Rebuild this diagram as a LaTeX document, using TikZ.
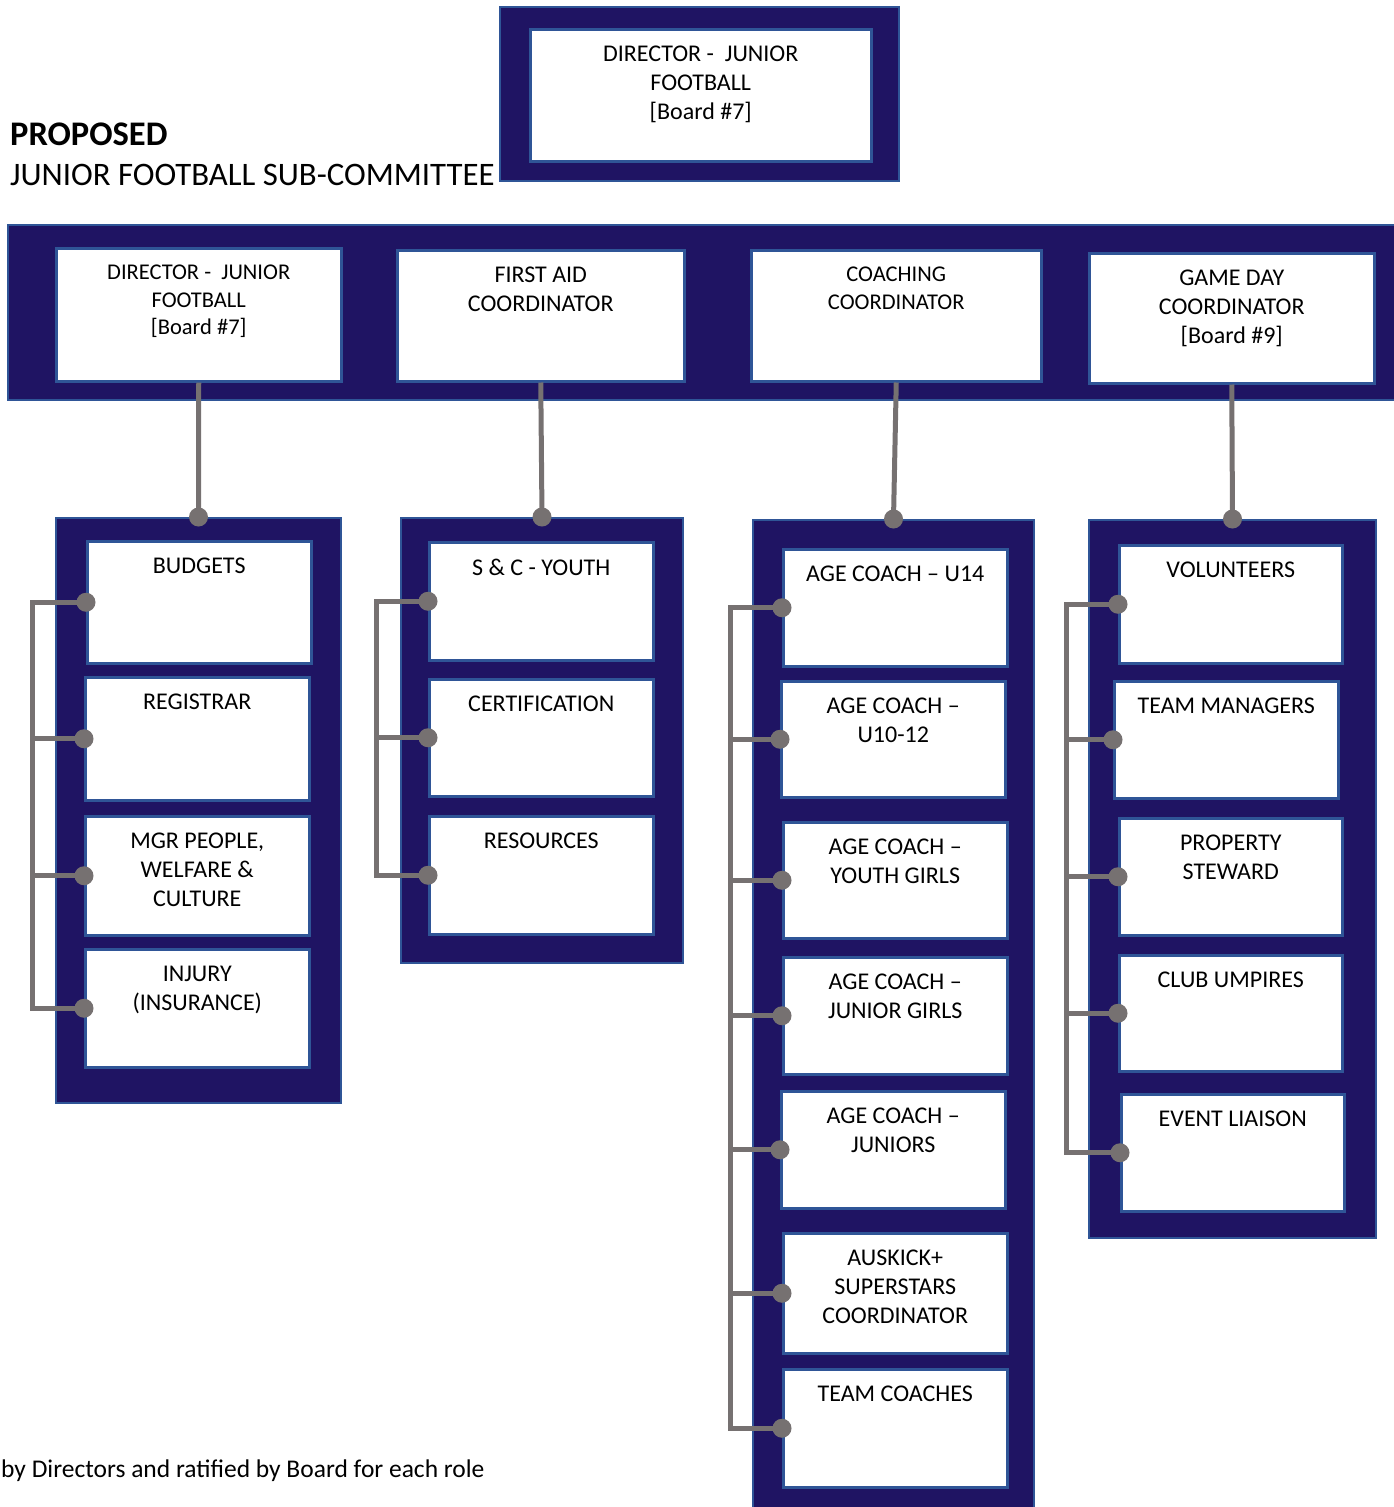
\documentclass[tikz,border=0pt]{standalone}
\usepackage{fontspec}
\setmainfont{Carlito}
\usetikzlibrary{positioning}
\definecolor{navy}{RGB}{31,20,99}
\definecolor{edgeblue}{RGB}{47,85,151}
\definecolor{linkgray}{RGB}{118,113,113}
\newcommand{\rolefont}{\fontsize{24}{29}\selectfont}
\newcommand{\smallrolefont}{\fontsize{22.5}{27.5}\selectfont}
\tikzset{
  panel/.style={rectangle, draw=edgeblue, line width=2pt, fill=navy, anchor=north west, inner sep=0pt},
  role/.style={rectangle, draw=edgeblue, line width=2.5pt, fill=white, anchor=north west, inner sep=0pt,
    minimum width=224pt, minimum height=118pt},
  roletext/.style={anchor=north, yshift=-18pt, inner sep=0pt, align=center, font=\rolefont},
  says/.style={label={[roletext]north:{#1}}},
  saysmall/.style={label={[roletext, font=\smallrolefont]north:{#1}}},
  link/.style={draw=linkgray, line width=5pt},
  dot/.style={fill=linkgray},
}
\begin{document}
\begin{tikzpicture}[x=1pt,y=-1pt]
\useasboundingbox (0,0) rectangle (1393,1507);
% title
\node[anchor=base west, inner sep=0pt, font=\fontsize{34.5}{40}\selectfont\bfseries] (proposed) at (10,145) {PROPOSED};
\node[anchor=base west, inner sep=0pt, font=\fontsize{32.8}{40}\selectfont] (subcommittee) at (10,185) {JUNIOR FOOTBALL SUB-COMMITTEE};
% director on top
\node[panel, minimum width=399pt, minimum height=174pt] (topPanel) at (499,6) {};
\node[role, minimum width=341pt, minimum height=132pt, says={DIRECTOR -~ JUNIOR\\FOOTBALL\\{}[Board \#7]}] (dirTop) at (529,28) {};
% sub-committee band
\node[panel, minimum width=1393pt, minimum height=175pt] (band) at (7,224) {};
\node[role, minimum width=285pt, minimum height=133pt, saysmall={DIRECTOR -~ JUNIOR\\FOOTBALL\\{}[Board \#7]}] (dirJF) at (55,247) {};
\node[role, minimum width=287pt, minimum height=131pt, says={FIRST AID\\COORDINATOR}] (firstAid) at (396,249) {};
\node[role, minimum width=290pt, minimum height=131pt, saysmall={COACHING\\COORDINATOR}] (coaching) at (750,249) {};
\node[role, minimum width=285pt, minimum height=130pt, says={GAME DAY\\COORDINATOR\\{}[Board \#9]}] (gameDay) at (1088,252) {};
% panels of roles
\node[panel, minimum width=285pt, minimum height=585pt] (panelA) at (55,517) {};
\node[panel, minimum width=282pt, minimum height=445pt] (panelB) at (400,517) {};
\node[panel, minimum width=281pt, minimum height=1000pt] (panelC) at (752,519) {};
\node[panel, minimum width=287pt, minimum height=718pt] (panelD) at (1088,519) {};
% director's roles
\node[role, minimum height=122pt, says={BUDGETS}] (budgets) at (86,540) {};
\node[role, minimum height=123pt, says={REGISTRAR}] (registrar) at (84,676) {};
\node[role, minimum height=119pt, says={MGR PEOPLE,\\WELFARE \&\\CULTURE}] (mgrPeople) at (84,815) {};
\node[role, says={INJURY\\(INSURANCE)}] (injury) at (84,948) {};
% first aid roles
\node[role, says={S \& C - YOUTH}] (sandc) at (428,541) {};
\node[role, minimum height=117pt, says={CERTIFICATION}] (certification) at (428,678) {};
\node[role, says={RESOURCES}] (resources) at (428,815) {};
% coaching roles
\node[role, minimum height=117pt, says={AGE COACH -- U14}] (uFourteen) at (782,548) {};
\node[role, minimum height=116pt, says={AGE COACH --\\U10-12}] (uTen) at (780,680) {};
\node[role, minimum height=116pt, says={AGE COACH --\\YOUTH GIRLS}] (youthGirls) at (782,821) {};
\node[role, minimum height=117pt, says={AGE COACH --\\JUNIOR GIRLS}] (juniorGirls) at (782,956) {};
\node[role, minimum height=117pt, says={AGE COACH --\\JUNIORS}] (juniors) at (780,1090) {};
\node[role, minimum height=120pt, says={AUSKICK+\\SUPERSTARS\\COORDINATOR}] (auskick) at (782,1232) {};
\node[role, says={TEAM COACHES}] (teamCoaches) at (782,1368) {};
% game day roles
\node[role, minimum width=223pt, says={VOLUNTEERS}] (volunteers) at (1118,544) {};
\node[role, minimum height=117pt, says={TEAM MANAGERS}] (teamManagers) at (1113,680) {};
\node[role, minimum width=223pt, minimum height=117pt, says={PROPERTY\\STEWARD}] (property) at (1118,817) {};
\node[role, minimum width=223pt, minimum height=116pt, says={CLUB UMPIRES}] (umpires) at (1118,954) {};
\node[role, minimum width=223pt, minimum height=117pt, says={EVENT LIAISON}] (eventLiaison) at (1120,1093) {};
% footnote
\node[anchor=base west, inner sep=0pt, font=\fontsize{25.5}{31}\selectfont] (footnote) at (1,1477) {by Directors and ratified by Board for each role};
% links down to the panels
\draw[link] (dirJF.south) -- (panelA.north);
\draw[link] (firstAid.south) -- (panelB.north);
\draw[link] (coaching.south) -- (panelC.north);
\draw[link] (gameDay.south) -- (panelD.north);
\foreach \p in {panelA,panelB,panelC,panelD}
  \fill[dot] (\p.north) circle (9.5pt);
% brackets
\coordinate (spineA) at (32,0);
\coordinate (spineB) at (376,0);
\coordinate (spineC) at (730,0);
\coordinate (spineD) at (1066,0);
\draw[link] (budgets.west) -| (spineA |- injury.west) -- (injury.west);
\draw[link] (sandc.west) -| (spineB |- resources.west) -- (resources.west);
\draw[link] (uFourteen.west) -| (spineC |- teamCoaches.west) -- (teamCoaches.west);
\draw[link] (volunteers.west) -| (spineD |- eventLiaison.west) -- (eventLiaison.west);
\foreach \n/\s in {registrar/spineA,mgrPeople/spineA,certification/spineB,uTen/spineC,youthGirls/spineC,
    juniorGirls/spineC,juniors/spineC,auskick/spineC,teamManagers/spineD,property/spineD,umpires/spineD}
  \draw[link] (\s |- \n.west) -- (\n.west);
\foreach \n in {budgets,registrar,mgrPeople,injury,sandc,certification,resources,uFourteen,uTen,youthGirls,
    juniorGirls,juniors,auskick,teamCoaches,volunteers,teamManagers,property,umpires,eventLiaison}
  \fill[dot] (\n.west) circle (9.5pt);
\end{tikzpicture}
\end{document}
